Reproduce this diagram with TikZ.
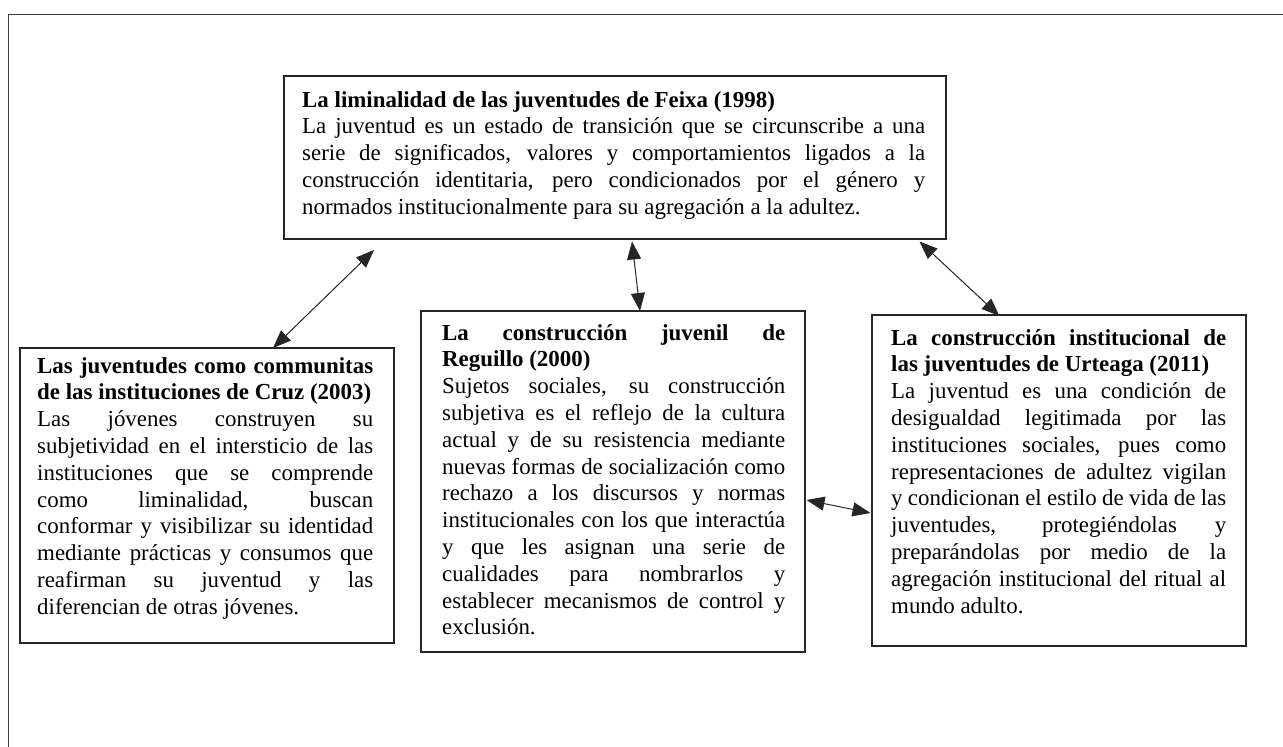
\documentclass[tikz,border=0pt]{standalone}
\usepackage{fontspec}
\setmainfont{Liberation Serif}
\usetikzlibrary{arrows.meta,calc}
\newcommand{\jl}[1]{\hbox to \hsize{#1}}
\newcommand{\nl}[1]{\hbox{#1}}
\begin{document}
\begin{tikzpicture}[x=1pt,y=-1pt,
  frame/.style={draw=black!75, line width=1pt},
  box/.style={draw=black!85, line width=1.2pt, inner sep=0pt, outer sep=0pt, anchor=north west},
  txt/.style={anchor=base west, inner sep=0pt, font=\fontsize{22.9}{26.8}\selectfont},
  link/.style={line width=1pt, draw=black!85, {Triangle[length=18pt,width=14pt]}-{Triangle[length=18pt,width=14pt]}}]
\useasboundingbox (0,0) rectangle (1283,747);
\draw[frame] (8,747) -- (8,14) -- (1283,14);
% boxes
\node[box, minimum width=662pt, minimum height=163pt] (feixa) at (284,76) {};
\node[box, minimum width=374pt, minimum height=295pt] (cruz) at (20,348) {};
\node[box, minimum width=384pt, minimum height=341pt] (reguillo) at (421,311) {};
\node[box, minimum width=374pt, minimum height=331pt] (urteaga) at (872,315) {};
% texts
\node[txt] (feixaT) at ($(feixa.north west)+(18,31)$) {\vtop{\hsize=623pt
\nl{\bfseries La liminalidad de las juventudes de Feixa (1998)}
\jl{La juventud es un estado de transición que se circunscribe a una}
\jl{serie de significados, valores y comportamientos ligados a la}
\jl{construcción identitaria, pero condicionados por el género y}
\nl{normados institucionalmente para su agregación a la adultez.}}};
\node[txt] (cruzT) at ($(cruz.north west)+(17,25)$) {\vtop{\hsize=336pt
\jl{\bfseries Las juventudes como communitas}
\nl{\bfseries de las instituciones de Cruz (2003)}
\jl{Las jóvenes construyen su}
\jl{subjetividad en el intersticio de las}
\jl{instituciones que se comprende}
\jl{como liminalidad, buscan}
\jl{conformar y visibilizar su identidad}
\jl{mediante prácticas y consumos que}
\jl{reafirman su juventud y las}
\nl{diferencian de otras jóvenes.}}};
\node[txt] (reguilloT) at ($(reguillo.north west)+(21,29)$) {\vtop{\hsize=343pt
\jl{\bfseries La construcción juvenil de}
\nl{\bfseries Reguillo (2000)}
\jl{Sujetos sociales, su construcción}
\jl{subjetiva es el reflejo de la cultura}
\jl{actual y de su resistencia mediante}
\jl{nuevas formas de socialización como}
\jl{rechazo a los discursos y normas}
\jl{institucionales con los que interactúa}
\jl{y que les asignan una serie de}
\jl{cualidades para nombrarlos y}
\jl{establecer mecanismos de control y}
\nl{exclusión.}}};
\node[txt] (urteagaT) at ($(urteaga.north west)+(19,30)$) {\vtop{\hsize=335pt
\jl{\bfseries La construcción institucional de}
\nl{\bfseries las juventudes de Urteaga (2011)}
\jl{La juventud es una condición de}
\jl{desigualdad legitimada por las}
\jl{instituciones sociales, pues como}
\jl{representaciones de adultez vigilan}
\jl{y condicionan el estilo de vida de las}
\jl{juventudes, protegiéndolas y}
\jl{preparándolas por medio de la}
\jl{agregación institucional del ritual al}
\nl{mundo adulto.}}};
% connectors
\draw[link] ($(feixa.south west)+(90,11)$) -- ($(cruz.north west)+(253,0)$);
\draw[link] ($(feixa.south west)+(348,2.5)$) -- ($(reguillo.north west)+(219,0)$);
\draw[link] ($(feixa.south east)+(-26.5,2.5)$) -- ($(urteaga.north west)+(127.5,1)$);
\draw[link] ($(reguillo.north east)+(1.5,189)$) -- ($(urteaga.north west)+(-1.5,198)$);
\end{tikzpicture}
\end{document}
